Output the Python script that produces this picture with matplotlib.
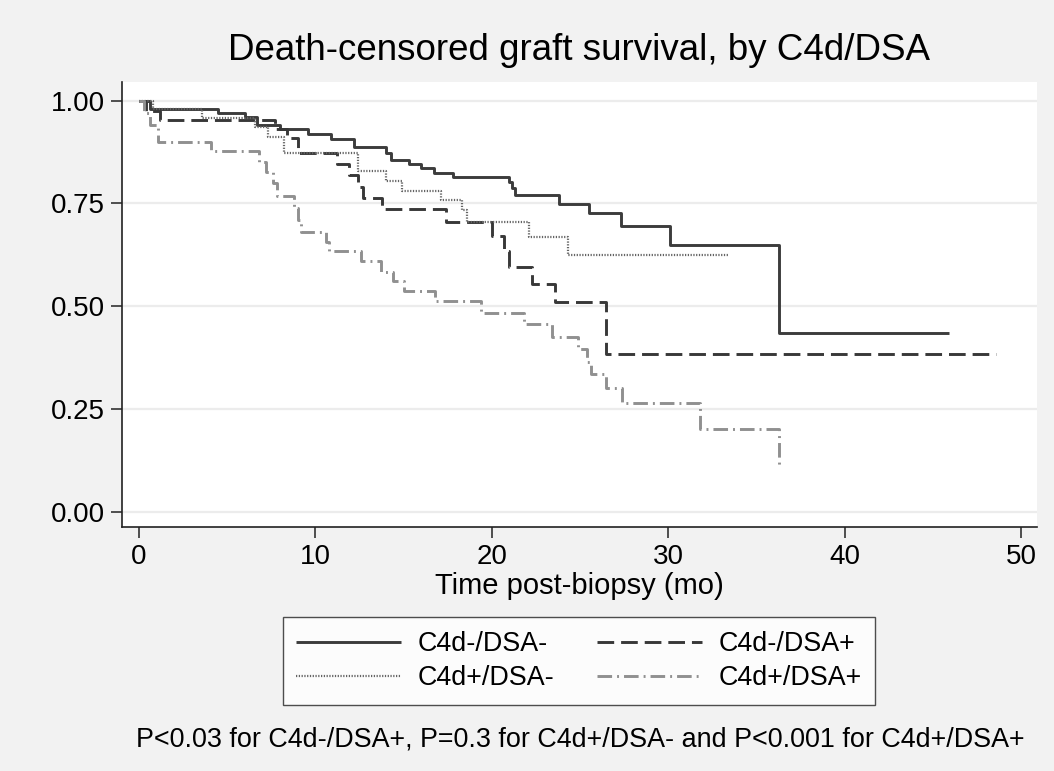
import matplotlib
matplotlib.use("Agg")
import matplotlib.pyplot as plt

plt.rcParams['font.family'] = ['Liberation Sans', 'DejaVu Sans']
plt.rcParams['lines.scale_dashes'] = False

# ---- data ----
t_nn = [0, 0.6, 4.5, 6.0, 6.7, 8.0, 9.6, 10.9, 12.2, 14.0, 14.3, 15.3, 16.0, 16.7, 17.8,
        21.0, 21.15, 21.3, 23.8, 25.5, 27.3, 30.1, 36.3, 45.9]
s_nn = [1.0, 0.981, 0.970, 0.961, 0.940, 0.932, 0.920, 0.908, 0.888, 0.872, 0.856, 0.846,
        0.836, 0.823, 0.815, 0.803, 0.787, 0.771, 0.749, 0.726, 0.696, 0.650, 0.434, 0.434]

t_np = [0, 0.4, 1.2, 7.7, 8.4, 9.0, 11.2, 11.9, 12.4, 12.7, 13.8, 17.4, 20.0, 20.7, 21.0,
        22.3, 23.6, 26.5, 48.6]
s_np = [1.0, 0.976, 0.953, 0.930, 0.910, 0.873, 0.845, 0.819, 0.790, 0.763, 0.737, 0.705,
        0.670, 0.634, 0.596, 0.554, 0.511, 0.383, 0.383]

t_pn = [0, 0.8, 3.6, 6.6, 7.3, 8.2, 12.4, 14.0, 14.9, 17.1, 18.3, 18.6, 22.1, 24.3, 33.4]
s_pn = [1.0, 0.981, 0.958, 0.935, 0.912, 0.872, 0.828, 0.805, 0.781, 0.759, 0.735, 0.706,
        0.668, 0.624, 0.624]

t_pp = [0, 0.3, 0.6, 1.1, 4.1, 6.8, 7.2, 7.6, 7.8, 8.8, 9.0, 9.2, 10.6, 10.8, 12.6, 13.7,
        14.4, 15.0, 16.8, 19.4, 21.8, 23.4, 24.9, 25.4, 25.6, 26.5, 27.4, 31.8, 36.3, 36.3]
s_pp = [1.0, 0.970, 0.940, 0.900, 0.877, 0.850, 0.827, 0.800, 0.769, 0.740, 0.710, 0.680,
        0.657, 0.635, 0.609, 0.583, 0.561, 0.537, 0.512, 0.484, 0.457, 0.425, 0.395, 0.365,
        0.336, 0.301, 0.264, 0.200, 0.200, 0.105]

labels = ["C4d-/DSA-", "C4d-/DSA+", "C4d+/DSA-", "C4d+/DSA+"]
x_ticks = [0, 10, 20, 30, 40, 50]
y_ticks = [0.0, 0.25, 0.5, 0.75, 1.0]
y_ticklabels = ["0.00", "0.25", "0.50", "0.75", "1.00"]
title = "Death-censored graft survival, by C4d/DSA"
xlabel = "Time post-biopsy (mo)"
note = "P<0.03 for C4d-/DSA+, P=0.3 for C4d+/DSA- and P<0.001 for C4d+/DSA+"

W, H = 1054, 771
fig = plt.figure(figsize=(W / 100, H / 100), dpi=100, facecolor='#f2f2f2')

L, R, T, B = 122, 1037, 82, 527
ax = fig.add_axes([L / W, 1 - B / H, (R - L) / W, (B - T) / H])
ax.set_facecolor('white')

ax.set_xlim(-0.96, 50.9)
ax.set_ylim(-0.0376, 1.0456)

for y in y_ticks:
    ax.axhline(y, color='#ececec', lw=1.6, zorder=0)

style = dict(where='post', solid_capstyle='butt', dash_capstyle='butt')
h1, = ax.step(t_nn, s_nn, color='#3c3c3c', lw=2.1, ls='-', **style)
h2, = ax.step(t_np, s_np, color='#383838', lw=2.1, ls=(0, (12, 5)), **style)
h3, = ax.step(t_pn, s_pn, color='#646464', lw=1.6, ls=(0, (0.9, 1.1)), **style)
h4, = ax.step(t_pp, s_pp, color='#909090', lw=2.1, ls=(0, (10.5, 3.6, 1.4, 3.6)), **style)

for sp in ['top', 'right']:
    ax.spines[sp].set_visible(False)
for sp in ['left', 'bottom']:
    ax.spines[sp].set_color('#222222')
    ax.spines[sp].set_linewidth(1.2)

ax.set_xticks(x_ticks)
ax.set_yticks(y_ticks)
ax.set_yticklabels(y_ticklabels)
ax.tick_params(axis='both', direction='out', length=8, width=1.1, color='#222222',
               labelsize=20, pad=4)
ax.set_xlabel(xlabel, fontsize=21, labelpad=2)

fig.text(579.5 / W, 1 - 50 / H, title, ha='center', va='center', fontsize=26.5)

leg = fig.legend([h1, h3, h2, h4], [labels[0], labels[2], labels[1], labels[3]],
                 ncol=2, loc='center', bbox_to_anchor=(579 / W, 1 - 661 / H),
                 fontsize=19.4, frameon=True, fancybox=False, edgecolor='#222222',
                 handlelength=3.9, handletextpad=0.6, columnspacing=1.6,
                 labelspacing=0.3, borderpad=0.5)
leg.get_frame().set_linewidth(1.0)
leg.get_frame().set_facecolor('white')

fig.text(580 / W, 1 - 740 / H, note, ha='center', va='center', fontsize=19.4)

fig.savefig('out.png', dpi=100, facecolor=fig.get_facecolor())
